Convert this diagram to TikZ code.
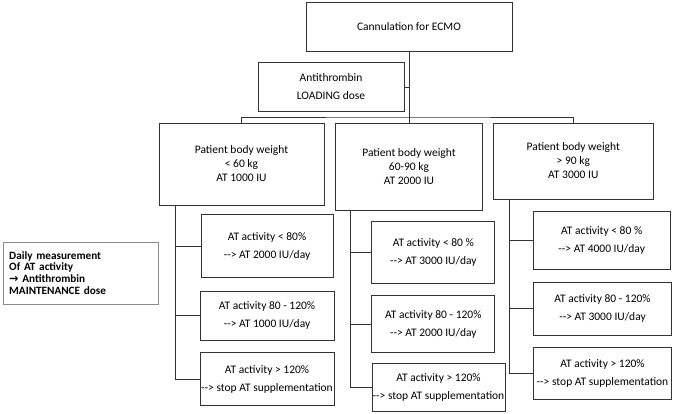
\documentclass[tikz,border=0pt]{standalone}
\usepackage{fontspec}
\setmainfont{Carlito}
\newfontfamily\arrowfont{DejaVu Sans}
\usepackage{tikz}
\usetikzlibrary{positioning}

\begin{document}
\begin{tikzpicture}[
  x=1pt, y=-1pt,
  box/.style={rectangle, draw=black!80, line width=1pt, inner sep=0pt, align=center, font=\fontsize{11.5}{18}\selectfont},
  weight/.style={box, font=\fontsize{11.5}{14}\selectfont},
  note/.style={rectangle, draw=black!45, line width=1pt, inner sep=6pt, align=left, text width=143pt, font=\fontsize{11.2}{11.8}\selectfont\bfseries},
  link/.style={draw=black!80, line width=1pt}
]
\useasboundingbox (0,0) rectangle (685,413);

\node[box, minimum width=206pt, minimum height=49pt] (ecmo) at (409,26.5) {Cannulation for ECMO};
\node[box, minimum width=146pt, minimum height=49pt] (loading) at (331,87) {Antithrombin \\ LOADING dose};
\coordinate (bus) at (409,117);

\node[weight, minimum width=165pt, minimum height=82pt] (light) at (241.5,164) {Patient body weight \\ < 60 kg \\ AT 1000 IU};
\node[weight, minimum width=147pt, minimum height=87pt] (medium) at (409,166.5) {Patient body weight \\ 60-90 kg \\ AT 2000 IU};
\node[weight, minimum width=160pt, minimum height=76pt] (heavy) at (573.3,161) {Patient body weight \\ > 90 kg \\ AT 3000 IU};

\node[note, minimum height=62pt] (daily) at (80.7,273) {Daily measurement \\ Of AT activity \\ {\arrowfont →} Antithrombin \\ MAINTENANCE dose};

\node[box, minimum width=132pt, minimum height=63pt] (lightlow) at (267,246) {AT activity < 80\% \\ -{}-> AT 2000 IU/day};
\node[box, minimum width=134pt, minimum height=49pt] (lightmid) at (267,315.5) {AT activity 80 - 120\% \\ -{}-> AT 1000 IU/day};
\node[box, minimum width=134pt, minimum height=53pt] (lighthigh) at (267,379) {AT activity > 120\% \\ -{}-> stop AT supplementation};

\node[box, minimum width=123pt, minimum height=62pt] (mediumlow) at (433.3,252.8) {AT activity < 80 \% \\ -{}-> AT 3000 IU/day};
\node[box, minimum width=123pt, minimum height=57pt] (mediummid) at (433.3,324.2) {AT activity 80 - 120\% \\ -{}-> AT 2000 IU/day};
\node[box, minimum width=133pt, minimum height=48pt] (mediumhigh) at (438.5,387.8) {AT activity > 120\% \\ -{}-> stop AT supplementation};

\node[box, minimum width=137pt, minimum height=58pt] (heavylow) at (601.7,240.8) {AT activity < 80 \% \\ -{}-> AT 4000 IU/day};
\node[box, minimum width=138pt, minimum height=53pt] (heavymid) at (602.5,308.7) {AT activity 80 - 120\% \\ -{}-> AT 3000 IU/day};
\node[box, minimum width=138pt, minimum height=52pt] (heavyhigh) at (602.5,373.5) {AT activity > 120\% \\ -{}-> stop AT supplementation};

\coordinate (lightspine) at ([xshift=17pt]light.south west);
\coordinate (mediumspine) at ([xshift=15pt]medium.south west);
\coordinate (heavyspine) at ([xshift=17pt]heavy.south west);

\draw[link] (ecmo) -- (bus);
\draw[link] (loading.east) -- (loading.east -| bus);
\draw[link] (light.north) |- (bus) -| (heavy.north);
\draw[link] (bus) -- (medium.north);

\draw[link] (lightspine) |- (lighthigh.west);
\draw[link] (lightlow.west) -- (lightlow.west -| lightspine);
\draw[link] (lightmid.west) -- (lightmid.west -| lightspine);

\draw[link] (mediumspine) |- (mediumhigh.west);
\draw[link] (mediumlow.west) -- (mediumlow.west -| mediumspine);
\draw[link] (mediummid.west) -- (mediummid.west -| mediumspine);

\draw[link] (heavyspine) |- (heavyhigh.west);
\draw[link] (heavylow.west) -- (heavylow.west -| heavyspine);
\draw[link] (heavymid.west) -- (heavymid.west -| heavyspine);
\end{tikzpicture}
\end{document}
